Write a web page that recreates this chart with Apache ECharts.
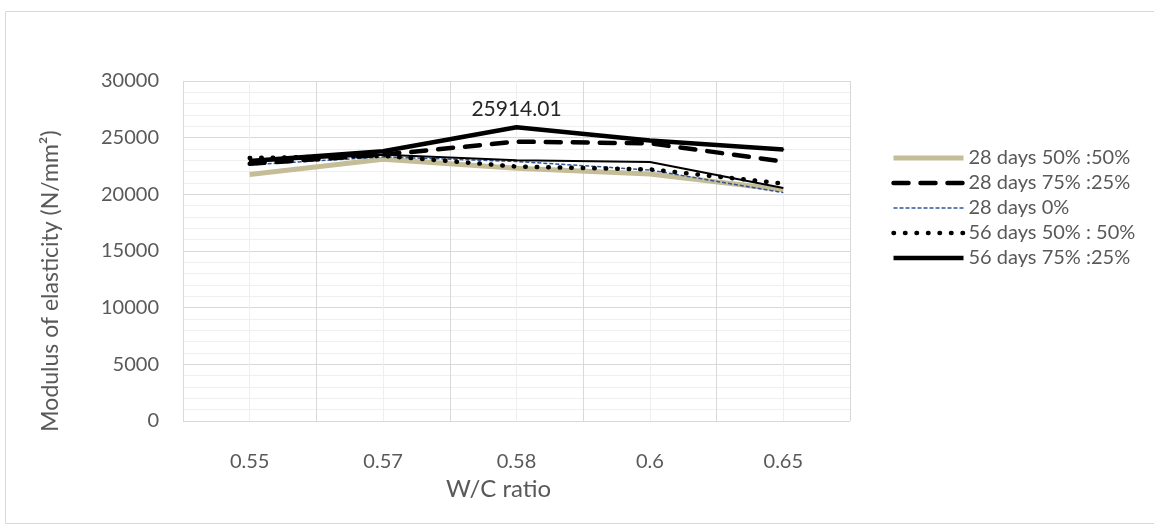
<!DOCTYPE html>
<html>
<head>
<meta charset="utf-8">
<script src="https://cdn.jsdelivr.net/npm/echarts@6/dist/echarts.min.js"></script>
<style>
  html, body { margin: 0; padding: 0; background: #fff; }
  #chart { width: 1154px; height: 527px; }
</style>
</head>
<body>
<div id="chart"></div>
<script>
// W/C ratio categories
const ratios = ['0.55', '0.57', '0.58', '0.6', '0.65'];

// Modulus of elasticity (N/mm²) per mix and curing age
const days28Mix5050 = [21750, 23100, 22300, 21800, 20400];
const days28Mix7525 = [22700, 23500, 24650, 24500, 22900];
const days28Mix0 = [22600, 23300, 22900, 22150, 20150];
const days56Mix5050 = [23200, 23400, 22450, 22200, 20950];
const days56Mix7525 = [22950, 23800, 25914.01, 24750, 23950];
const days56Mix0 = [22900, 23500, 23000, 22850, 20550];

const legendNames = ['28 days 50% :50%', '28 days 75% :25%', '28 days 0%', '56 days 50% : 50%', '56 days 75% :25%'];
const yTicks = { min: 0, max: 30000, step: 5000 };
const labelledIndex = 2;

const chart = echarts.init(document.getElementById('chart'));
const font = 'Lato, "Open Sans", sans-serif';

function lineSeries(name, data, style, z) {
  return {
    name: name, type: 'line', data: data, symbol: 'none', z: z,
    itemStyle: { color: style.color },
    lineStyle: style, emphasis: { disabled: true }
  };
}

chart.setOption({
  animation: false,
  graphic: [{
    type: 'rect', left: 3, top: 9, silent: true,
    shape: { width: 1160, height: 512 },
    style: { fill: 'none', stroke: '#d9d9d9', lineWidth: 1 }
  }],
  grid: { left: 183, right: 304, top: 81, bottom: 106 },
  legend: {
    data: legendNames,
    orient: 'vertical', left: 886, top: 143,
    itemWidth: 70, itemHeight: 20, itemGap: 5,
    itemStyle: { opacity: 0 },
    lineStyle: { width: 'inherit', type: 'inherit', color: 'inherit' },
    textStyle: { fontFamily: font, fontSize: 20, color: '#595959' }
  },
  xAxis: [{
    type: 'category', data: ratios, boundaryGap: true,
    axisLine: { show: false }, axisTick: { show: false },
    splitLine: { show: false },
    axisLabel: { fontFamily: font, fontSize: 20, color: '#595959', margin: 31 },
    name: 'W/C ratio', nameLocation: 'middle', nameGap: 42,
    nameTextStyle: { fontFamily: font, fontSize: 24, color: '#595959', padding: [0, 36, 0, 0] }
  }, {
    // gridline-only axis: category boundaries and category centres
    type: 'value', min: 0, max: 5, interval: 0.5, show: true,
    position: 'bottom',
    axisLine: { show: false }, axisTick: { show: false }, axisLabel: { show: false },
    splitLine: { show: true, lineStyle: { color: ['#d9d9d9', '#efefef'], width: 1 } }
  }],
  yAxis: {
    type: 'value', min: yTicks.min, max: yTicks.max, interval: yTicks.step,
    axisLine: { show: false }, axisTick: { show: false },
    axisLabel: { fontFamily: font, fontSize: 20, color: '#595959', margin: 24, formatter: v => String(v) },
    splitLine: { lineStyle: { color: '#d9d9d9' } },
    minorTick: { show: false, splitNumber: 5 },
    minorSplitLine: { show: true, lineStyle: { color: '#efefef' } },
    name: 'Modulus of elasticity (N/mm²)', nameLocation: 'middle', nameGap: 121,
    nameTextStyle: { fontFamily: font, fontSize: 23, color: '#595959', padding: [0, 60, 0, 0] }
  },
  series: [
    lineSeries(legendNames[0], days28Mix5050, { color: '#c4bd97', width: 5 }, 2),
    lineSeries(legendNames[2], days28Mix0, { color: '#2f5597', width: 1.5, type: [4, 2] }, 3),
    lineSeries(legendNames[3], days56Mix5050, { color: '#000', width: 4.5, type: [0.5, 11], cap: 'round' }, 4),
    lineSeries('56 days 0%', days56Mix0, { color: '#000', width: 2 }, 5),
    lineSeries(legendNames[1], days28Mix7525, { color: '#000', width: 4.5, type: [15, 12], cap: 'round' }, 6),
    Object.assign(lineSeries(legendNames[4], days56Mix7525, { color: '#000', width: 4.5 }, 7), {
      symbol: 'circle', symbolSize: 2, showSymbol: true,
      label: {
        show: true, position: 'top', distance: 7,
        fontFamily: font, fontSize: 21, color: '#262626',
        formatter: p => (p.dataIndex === labelledIndex ? String(p.value) : '')
      }
    })
  ]
});
</script>
</body>
</html>
